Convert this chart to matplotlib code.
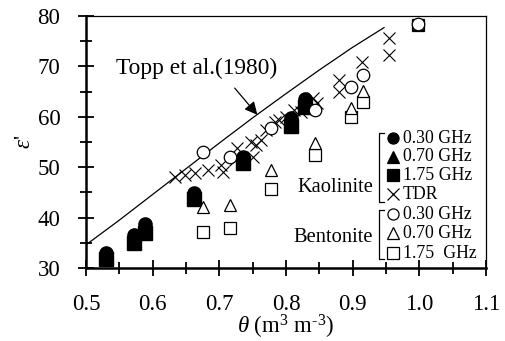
import matplotlib
matplotlib.use('Agg')
import matplotlib.pyplot as plt

plt.rcParams['font.family'] = ['Liberation Serif', 'DejaVu Serif']
plt.rcParams['mathtext.fontset'] = 'custom'
plt.rcParams['mathtext.rm'] = 'Liberation Serif'
plt.rcParams['mathtext.it'] = 'Liberation Serif:italic'

# Topp et al. (1980) curve
topp_theta = [0.50, 0.55, 0.60, 0.65, 0.70, 0.75, 0.80, 0.85, 0.90, 0.947]
topp_eps = [34.6, 39.5, 44.6, 49.7, 54.8, 59.8, 64.6, 69.3, 73.8, 77.7]

# Kaolinite (filled markers)
kao_theta = [0.530, 0.572, 0.589, 0.662, 0.735, 0.807, 0.828]
kao_030 = [33.0, 36.5, 38.7, 44.9, 52.0, 59.8, 63.6]
kao_070 = [32.4, 35.6, 37.8, 44.2, 51.3, 58.9, 62.8]
kao_175 = [31.7, 34.9, 37.0, 43.6, 50.8, 58.2, 62.0]

# Kaolinite TDR
tdr_theta = [0.633, 0.648, 0.663, 0.683, 0.703, 0.705, 0.723, 0.727, 0.748,
             0.750, 0.755, 0.763, 0.770, 0.783, 0.790, 0.800, 0.812, 0.822,
             0.840, 0.847, 0.880, 0.880, 0.914, 0.954, 0.954]
tdr_eps = [48.1, 48.4, 48.9, 49.4, 50.4, 49.1, 51.4, 53.8, 55.1,
           52.1, 54.4, 55.4, 57.4, 59.0, 59.4, 60.0, 61.3, 61.0,
           63.7, 62.7, 65.0, 67.3, 70.9, 72.3, 75.6]

# Bentonite (open markers)
ben_theta = [0.675, 0.716, 0.778, 0.843, 0.897, 0.915, 0.998]
ben_030 = [53.1, 52.1, 57.8, 61.3, 65.9, 68.3, 78.4]
ben_070 = [42.2, 42.5, 49.4, 54.8, 61.7, 65.2, 78.4]
ben_175 = [37.1, 38.0, 45.7, 52.4, 59.9, 63.0, 78.2]

fig = plt.figure(figsize=(5.06, 3.41), dpi=100)
ax = fig.add_axes([0.170, 0.2141, 0.7905, 0.7389])

ax.plot(topp_theta, topp_eps, color='k', lw=0.9, zorder=2)

ax.plot(tdr_theta, tdr_eps, 'x', color='k', ms=9, mew=0.8, zorder=3)

ax.plot(kao_theta, kao_175, 's', color='k', ms=9.5, zorder=4)
ax.plot(kao_theta, kao_070, '^', color='k', ms=9.5, zorder=4)
ax.plot(kao_theta, kao_030, 'o', color='k', ms=9.5, zorder=5)

ax.plot(ben_theta, ben_175, 's', mfc='white', mec='k', ms=9, mew=0.9,
        zorder=6, clip_on=False)
ax.plot(ben_theta, ben_070, '^', mfc='white', mec='k', ms=9, mew=0.9,
        zorder=7, clip_on=False)
ax.plot(ben_theta, ben_030, 'o', mfc='white', mec='k', ms=9, mew=0.9,
        zorder=8, clip_on=False)

ax.annotate('', xy=(0.757, 60.4), xytext=(0.723, 65.7),
            arrowprops=dict(arrowstyle='-|>', color='k', lw=0.9,
                            mutation_scale=19, shrinkA=0, shrinkB=0))
ax.text(0.666, 69.6, 'Topp et al.(1980)', ha='center', va='center',
        fontsize=16.8)

# custom bracketed legend
leg_x = 0.7675
txt_x = 0.792
rows = [
    (0.5147, 'o', 'k', '0.30 GHz'),
    (0.4417, '^', 'k', '0.70 GHz'),
    (0.3690, 's', 'k', '1.75 GHz'),
    (0.2925, 'x', 'k', 'TDR'),
    (0.2131, 'o', 'white', '0.30 GHz'),
    (0.1377, '^', 'white', '0.70 GHz'),
    (0.0583, 's', 'white', '1.75  GHz'),
]
for y, m, fc, lab in rows:
    ax.plot([leg_x], [y], m, transform=ax.transAxes, ms=8, mfc=fc,
            mec='k', mew=0.9, clip_on=False, zorder=9)
    ax.text(txt_x, y, lab, transform=ax.transAxes, ha='left',
            va='center', fontsize=12.8)

bx = 0.7325
for top, bot in [(0.537, 0.263), (0.230, 0.0345)]:
    ax.plot([bx + 0.0125, bx, bx, bx + 0.0125], [top, top, bot, bot],
            color='k', lw=0.9, transform=ax.transAxes, clip_on=False)
ax.text(0.7175, 0.3187, 'Kaolinite', transform=ax.transAxes, ha='right',
        va='center', fontsize=14.8)
ax.text(0.7175, 0.1218, 'Bentonite', transform=ax.transAxes, ha='right',
        va='center', fontsize=14.8)

ax.set_xlim(0.5, 1.1)
ax.set_ylim(30, 80)
ax.set_xticks([0.5, 0.6, 0.7, 0.8, 0.9, 1.0, 1.1])
ax.set_xticklabels(['0.5', '0.6', '0.7', '0.8', '0.9', '1.0', '1.1'])
ax.set_xticks([0.55, 0.65, 0.75, 0.85, 0.95, 1.05], minor=True)
ax.set_yticks([30, 40, 50, 60, 70, 80])
ax.set_yticks([35, 45, 55, 65, 75], minor=True)

ax.tick_params(which='both', direction='inout', labelsize=16.5, width=1.3)
ax.tick_params(which='major', length=11)
ax.tick_params(which='minor', length=8.5)
ax.tick_params(axis='x', pad=13)
ax.tick_params(axis='y', pad=13)

ax.spines['left'].set_linewidth(1.8)
ax.spines['bottom'].set_linewidth(1.8)
ax.spines['top'].set_linewidth(0.9)
ax.spines['right'].set_linewidth(0.9)

ax.set_xlabel(r'$\theta$ (m$^{3}$ m$^{\text{-}3}$)', fontsize=16.5,
              labelpad=-1)
ax.set_ylabel(r"$\varepsilon$'", fontsize=16.5, labelpad=2)

fig.savefig('out.png', dpi=100)
